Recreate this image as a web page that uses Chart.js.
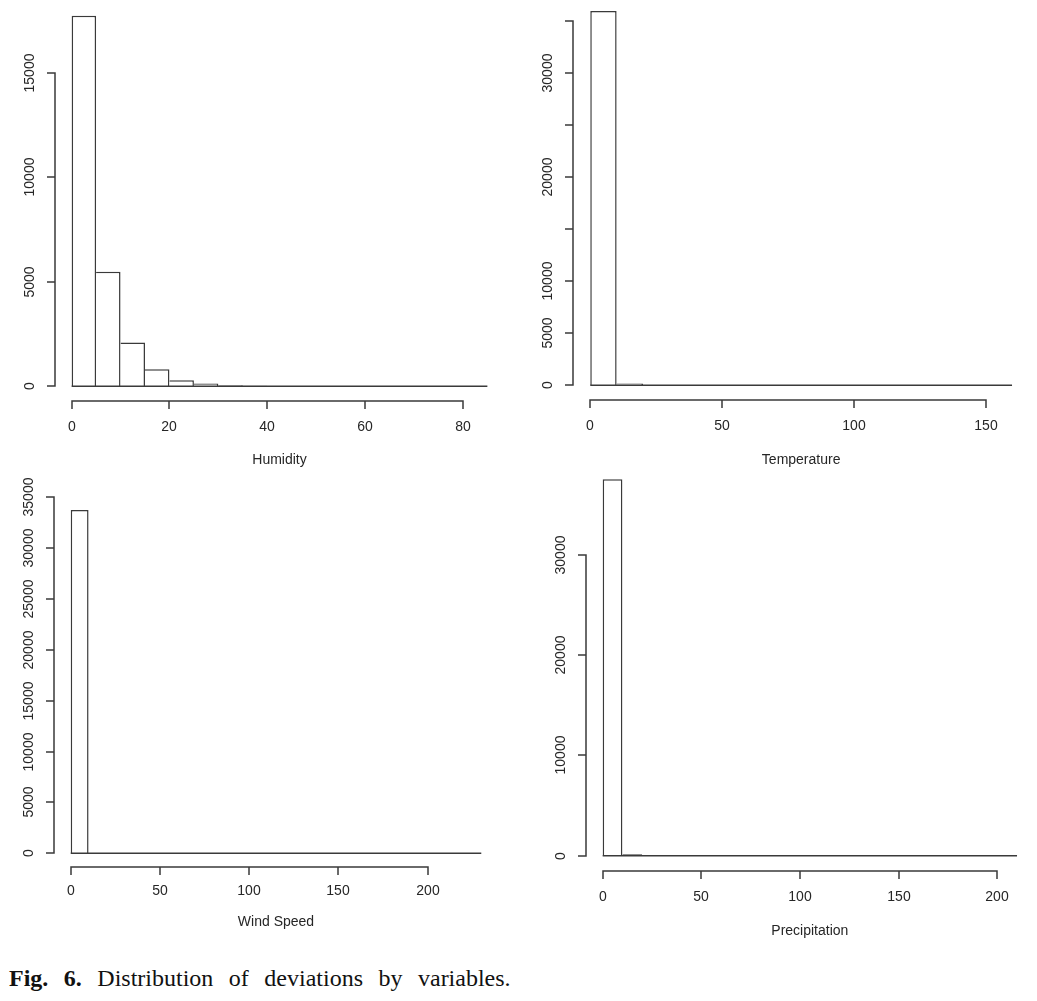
<!DOCTYPE html>
<html>
<head>
<meta charset="utf-8">
<title>Distribution of deviations by variables</title>
<script src="https://cdn.jsdelivr.net/npm/chart.js@4.4.1/dist/chart.umd.min.js"></script>
<style>
  body { margin: 0; background: #fff; width: 1037px; height: 1001px; overflow: hidden; position: relative; }
  .panel { position: absolute; }
  #caption {
    position: absolute; left: 9px; top: 966px;
    font-family: "Liberation Serif", "Times New Roman", serif;
    font-size: 24px; line-height: 24px; word-spacing: 9.5px;
    color: #111; white-space: nowrap;
  }
</style>
</head>
<body>
<div class="panel" id="box-humidity"><canvas id="humidity"></canvas></div>
<div class="panel" id="box-temperature"><canvas id="temperature"></canvas></div>
<div class="panel" id="box-wind"><canvas id="wind"></canvas></div>
<div class="panel" id="box-precip"><canvas id="precip"></canvas></div>
<div id="caption"><b>Fig. 6.</b> Distribution of deviations by variables.</div>

<script>
// histogram bin edges and counts
const humidityBreaks = [0, 5, 10, 15, 20, 25, 30, 35, 40, 45, 50, 55, 60, 65, 70, 75, 80, 85];
const humidityCounts = [17740, 5480, 2095, 815, 288, 130, 40, 15, 8, 5, 3, 2, 1, 1, 0, 0, 1];
const humidityXTicks = [0, 20, 40, 60, 80];
const humidityYTicks = [0, 5000, 10000, 15000];
const humidityYLabels = ['0', '5000', '10000', '15000'];

const temperatureBreaks = [0, 10, 20, 30, 40, 50, 60, 70, 80, 90, 100, 110, 120, 130, 140, 150, 160];
const temperatureCounts = [35920, 180, 10, 3, 2, 1, 1, 0, 0, 0, 0, 0, 0, 0, 0, 1];
const temperatureXTicks = [0, 50, 100, 150];
const temperatureYTicks = [0, 5000, 10000, 15000, 20000, 25000, 30000, 35000];
const temperatureYLabels = ['0', '5000', '10000', '', '20000', '', '30000', ''];

const windBreaks = [0, 10, 20, 30, 40, 50, 60, 70, 80, 90, 100, 110, 120, 130, 140, 150, 160, 170, 180, 190, 200, 210, 220, 230];
const windCounts = [33750, 20, 5, 2, 1, 1, 0, 0, 0, 0, 0, 0, 0, 0, 0, 0, 0, 0, 0, 0, 0, 0, 1];
const windXTicks = [0, 50, 100, 150, 200];
const windYTicks = [0, 5000, 10000, 15000, 20000, 25000, 30000, 35000];
const windYLabels = ['0', '5000', '10000', '15000', '20000', '25000', '30000', '35000'];

const precipBreaks = [0, 10, 20, 30, 40, 50, 60, 70, 80, 90, 100, 110, 120, 130, 140, 150, 160, 170, 180, 190, 200, 210];
const precipCounts = [37530, 160, 10, 3, 1, 1, 0, 0, 0, 0, 0, 0, 0, 0, 0, 0, 0, 0, 0, 0, 1];
const precipXTicks = [0, 50, 100, 150, 200];
const precipYTicks = [0, 10000, 20000, 30000];
const precipYLabels = ['0', '10000', '20000', '30000'];

const LINE = '#3a3a3a';
const TEXT = '#262626';
const FONT = '14px "Liberation Sans", Arial, sans-serif';

// page layout: canvas box [left, top, width, height] and plot region [left, top, right, bottom]
const panels = [
  { id: 'humidity', title: 'Humidity', breaks: humidityBreaks, counts: humidityCounts,
    xTicks: humidityXTicks, yTicks: humidityYTicks, yLabels: humidityYLabels,
    box: [0, 0, 518, 470], plot: [55, 1, 504, 401], labelGap: 26, titleGap: 59 },
  { id: 'temperature', title: 'Temperature', breaks: temperatureBreaks, counts: temperatureCounts,
    xTicks: temperatureXTicks, yTicks: temperatureYTicks, yLabels: temperatureYLabels,
    box: [518, -10, 519, 480], plot: [573.4, -4, 1028.9, 400.3], labelGap: 26, titleGap: 60 },
  { id: 'wind', title: 'Wind Speed', breaks: windBreaks, counts: windCounts,
    xTicks: windXTicks, yTicks: windYTicks, yLabels: windYLabels,
    box: [0, 470, 518, 490], plot: [54.3, 496.3, 497.7, 867], labelGap: 24, titleGap: 55 },
  { id: 'precip', title: 'Precipitation', breaks: precipBreaks, counts: precipCounts,
    xTicks: precipXTicks, yTicks: precipYTicks, yLabels: precipYLabels,
    box: [518, 460, 519, 500], plot: [586.1, 464.2, 1033.6, 870.8], labelGap: 26, titleGap: 60 }
];

// R style detached axes, drawn from the chart's own scales
function rAxes(p) {
  return {
    id: 'rAxes',
    afterDraw(chart) {
      const ctx = chart.ctx;
      const area = chart.chartArea;
      const xs = chart.scales.x;
      const ys = chart.scales.y;
      ctx.save();
      ctx.strokeStyle = LINE;
      ctx.lineWidth = 1.5;
      ctx.fillStyle = TEXT;
      ctx.font = FONT;
      ctx.textAlign = 'center';
      ctx.textBaseline = 'middle';

      // y axis
      const ax = Math.round(area.left);
      const yPix = p.yTicks.map(v => Math.round(ys.getPixelForValue(v)));
      ctx.beginPath();
      ctx.moveTo(ax, yPix[0] + 0.75);
      ctx.lineTo(ax, yPix[yPix.length - 1] - 0.75);
      yPix.forEach(y => { ctx.moveTo(ax, y); ctx.lineTo(ax - 8, y); });
      ctx.stroke();
      yPix.forEach((y, i) => {
        if (!p.yLabels[i]) return;
        ctx.save();
        ctx.translate(ax - 25, y);
        ctx.rotate(-Math.PI / 2);
        ctx.fillText(p.yLabels[i], 0, 0);
        ctx.restore();
      });

      // x axis
      const ay = Math.round(area.bottom);
      const xPix = p.xTicks.map(v => Math.round(xs.getPixelForValue(v)));
      ctx.beginPath();
      ctx.moveTo(xPix[0] - 0.75, ay);
      ctx.lineTo(xPix[xPix.length - 1] + 0.75, ay);
      xPix.forEach(x => { ctx.moveTo(x, ay); ctx.lineTo(x, ay + 8); });
      ctx.stroke();
      xPix.forEach((x, i) => ctx.fillText(String(p.xTicks[i]), x, ay + p.labelGap));
      ctx.fillText(p.title, (area.left + area.right) / 2, ay + p.titleGap);
      ctx.restore();
    }
  };
}

function drawPanel(p) {
  const [bl, bt, bw, bh] = p.box;
  const [pl, pt, pr, pb] = p.plot;
  const holder = document.getElementById('box-' + p.id);
  holder.style.left = bl + 'px';
  holder.style.top = bt + 'px';
  holder.style.width = bw + 'px';
  holder.style.height = bh + 'px';

  const first = p.breaks[0];
  const last = p.breaks[p.breaks.length - 1];
  const span = last - first;
  const ymax = Math.max(...p.counts);

  const bars = p.counts.map((c, i) => ({ x: (p.breaks[i] + p.breaks[i + 1]) / 2, y: c }));

  new Chart(document.getElementById(p.id), {
    type: 'bar',
    data: {
      datasets: [{
        type: 'bar',
        data: bars,
        backgroundColor: '#ffffff',
        borderColor: LINE,
        borderWidth: ctx => ({ top: 1.5, right: 1.5, bottom: 0, left: ctx.dataIndex === 0 ? 1.5 : 0 }),
        borderSkipped: false,
        barPercentage: 1,
        categoryPercentage: 1,
        inflateAmount: 0,
        order: 1
      }, {
        // zero-count bins show as a flat line along the base
        type: 'line',
        data: [{ x: first, y: 0 }, { x: last, y: 0 }],
        borderColor: LINE,
        borderWidth: 1.5,
        pointRadius: 0,
        fill: false,
        order: 0
      }]
    },
    options: {
      responsive: true,
      maintainAspectRatio: false,
      animation: false,
      events: [],
      layout: {
        padding: { left: pl - bl, top: pt - bt, right: bl + bw - pr, bottom: bt + bh - pb }
      },
      plugins: { legend: { display: false }, tooltip: { enabled: false } },
      scales: {
        x: {
          type: 'linear',
          display: false,
          offset: false,
          min: first - 0.04 * span,
          max: last + 0.04 * span,
          afterBuildTicks: scale => { scale.ticks = p.breaks.map(v => ({ value: v })); }
        },
        y: {
          type: 'linear',
          display: false,
          min: -0.04 * ymax,
          max: 1.04 * ymax
        }
      }
    },
    plugins: [rAxes(p)]
  });
}

panels.forEach(drawPanel);
</script>
</body>
</html>
